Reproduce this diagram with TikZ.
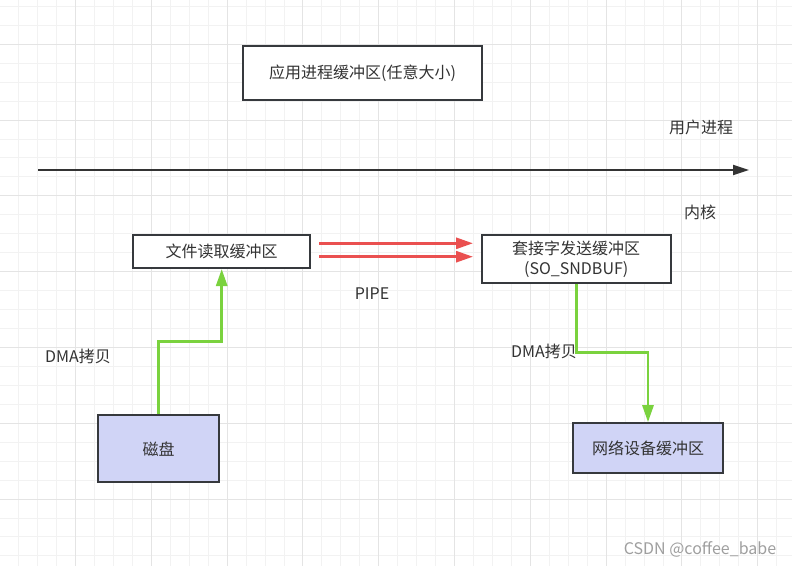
\documentclass[tikz,border=0pt]{standalone}
\usepackage{fontspec}
\setmainfont{Noto Sans CJK SC}
\usetikzlibrary{arrows.meta}
\definecolor{gridminor}{RGB}{242,242,242}
\definecolor{gridmajor}{RGB}{228,228,228}
\definecolor{boxline}{RGB}{54,57,61}
\definecolor{txt}{RGB}{51,51,51}
\definecolor{redline}{RGB}{234,80,80}
\definecolor{greenline}{RGB}{122,210,62}
\definecolor{lav}{RGB}{208,212,246}
\tikzset{
  minorgrid/.style={draw=gridminor, line width=0.9pt},
  majorgrid/.style={draw=gridmajor, line width=1pt},
  bufbox/.style={draw=boxline, line width=1.6pt, fill=white, inner sep=0pt, text=txt, font=\fontsize{16}{20}\selectfont, align=center},
  devbox/.style={bufbox, fill=lav},
  lbl/.style={text=txt, font=\fontsize{16}{20}\selectfont, inner sep=0pt},
  redarrow/.style={draw=redline, line width=2.8pt, -{Triangle[length=17pt,width=11pt]}},
  greenarrow/.style={draw=greenline, line width=2.8pt, -{Triangle[length=17pt,width=11pt]}},
  axis/.style={draw=txt, line width=1.8pt, -{Triangle[length=16pt,width=10pt]}},
}
\begin{document}
\begin{tikzpicture}[x=1pt,y=-1pt]
\fill[white] (0,0) rectangle (792,566);
\useasboundingbox (0,0) rectangle (792,566);
% grid
\foreach \i in {0,...,42} { \draw[minorgrid] ({\i*18.95-0.3},0) -- ({\i*18.95-0.3},566); }
\foreach \i in {0,...,30} { \draw[minorgrid] (0,{6.3+\i*18.95}) -- (792,{6.3+\i*18.95}); }
\foreach \i in {0,...,10} { \draw[majorgrid] ({\i*75.8-0.3},0) -- ({\i*75.8-0.3},566); }
\foreach \i in {0,...,7} { \draw[majorgrid] (0,{-31.5+\i*75.8}) -- (792,{-31.5+\i*75.8}); }

% boxes
\node[bufbox, minimum width=239pt, minimum height=54pt] (app) at (362.5,73) {应用进程缓冲区(任意大小)};
\node[bufbox, minimum width=177pt, minimum height=33pt] (filebuf) at (221.7,251.7) {文件读取缓冲区};
\node[bufbox, minimum width=189pt, minimum height=48pt] (sock) at (576.2,259.2) {套接字发送缓冲区\\(SO\_SNDBUF)};
\node[devbox, minimum width=121pt, minimum height=67pt] (disk) at (158.7,448.7) {磁盘};
\node[devbox, minimum width=150pt, minimum height=50pt] (net) at (648,448) {网络设备缓冲区};

% labels
\node[lbl] (user) at (701,127) {用户进程};
\node[lbl] (kernel) at (700,212) {内核};
\node[lbl] (pipe) at (372,294) {PIPE};
\node[lbl] (dma1) at (78,356) {DMA拷贝};
\node[lbl] (dma2) at (544,351) {DMA拷贝};
\node[text=gray!75, font=\fontsize{16}{18}\selectfont, inner sep=0pt] (wm) at (700,549) {CSDN @coffee\_babe};

% axis
\coordinate (axL) at (38,170);
\coordinate (axR) at (749,170);
\draw[axis] (axL) -- (axR);

% pipe arrows
\coordinate (p1a) at (319.3,243.3);
\coordinate (p1b) at (473,243.3);
\coordinate (p2a) at (319.3,256.7);
\coordinate (p2b) at (473,256.7);
\draw[redarrow] (p1a) -- (p1b);
\draw[redarrow] (p2a) -- (p2b);

% DMA copies
\coordinate (bend1) at (190,341.7);
\draw[greenarrow] (disk.north) |- (bend1) -| (filebuf.south);
\coordinate (bend2) at (610,352.7);
\draw[greenarrow] (sock.south) |- (bend2) -| (net.north);
\end{tikzpicture}
\end{document}
